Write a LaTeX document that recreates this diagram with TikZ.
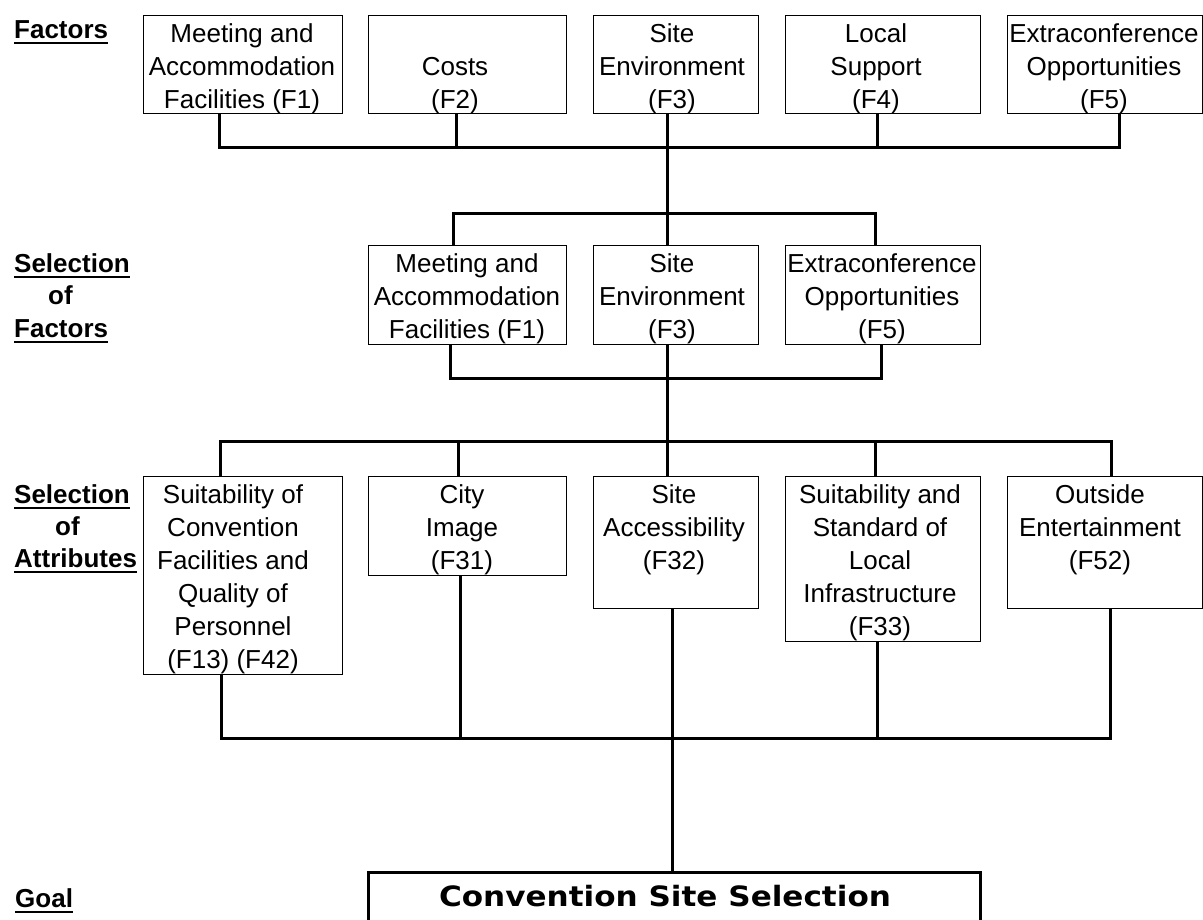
\documentclass[tikz,border=0pt]{standalone}
\usepackage{fontspec}
\setmainfont{Liberation Sans}
\newfontfamily\goalfont{DejaVu Sans}
\begin{document}
\begin{tikzpicture}[x=1pt,y=-1pt,
  box/.style={draw, line width=1.2pt, inner sep=0pt, anchor=north west},
  txt/.style={font=\fontsize{26}{33}\selectfont, align=center, inner sep=0pt, anchor=north},
  head/.style={font=\fontsize{26}{33}\selectfont\bfseries, inner sep=0pt, anchor=base west},
  uline/.style={line width=2pt},
  conn/.style={line width=3pt, line join=miter}
]
\useasboundingbox (0,0) rectangle (1203,919);
\fill[white] (0,0) rectangle (1203,919);

% ---------- headings ----------
\node[head] (h1) at (14,38) {Factors};
\node[head] (h2a) at (14,272) {Selection};
\node[head] (h2b) at (48,304) {of};
\node[head] (h2c) at (14,337) {Factors};
\node[head] (h3a) at (14,503) {Selection};
\node[head] (h3b) at (55,535) {of};
\node[head] (h3c) at (14,567) {Attributes};
\node[head] (h4) at (15,907) {Goal};
\foreach \h in {h1,h2a,h2c,h3a,h3c,h4}
  \draw[uline] ([yshift=-5pt]\h.base west) -- ([yshift=-5pt]\h.base east);

% ---------- factors row ----------
\node[box, minimum width=199pt, minimum height=98pt] (f1a) at (143,15) {};
\node[box, minimum width=198pt, minimum height=98pt] (f2)  at (368,15) {};
\node[box, minimum width=165pt, minimum height=98pt] (f3a) at (593,15) {};
\node[box, minimum width=195pt, minimum height=98pt] (f4)  at (785,15) {};
\node[box, minimum width=195pt, minimum height=98pt] (f5a) at (1007,15) {};
\node[txt] (tf1a) at (242,19) {\strut Meeting and\\Accommodation\\Facilities (F1)};
\node[txt] (tf2)  at (455,19) {\strut\\Costs\\(F2)};
\node[txt] (tf3a) at (672,19) {\strut Site\\Environment\\(F3)};
\node[txt] (tf4)  at (876,19) {\strut Local\\Support\\(F4)};
\node[txt] (tf5a) at (1104,19) {\strut Extraconference\\Opportunities\\(F5)};

% ---------- selection of factors row ----------
\node[box, minimum width=198pt, minimum height=99pt] (f1b) at (368,245) {};
\node[box, minimum width=165pt, minimum height=99pt] (f3b) at (593,245) {};
\node[box, minimum width=195pt, minimum height=99pt] (f5b) at (785,245) {};
\node[txt] (tf1b) at (467,249) {\strut Meeting and\\Accommodation\\Facilities (F1)};
\node[txt] (tf3b) at (672,249) {\strut Site\\Environment\\(F3)};
\node[txt] (tf5b) at (882,249) {\strut Extraconference\\Opportunities\\(F5)};

% ---------- attributes row ----------
\node[box, minimum width=199pt, minimum height=198pt] (a1) at (143,476) {};
\node[box, minimum width=198pt, minimum height=99pt]  (a2) at (368,476) {};
\node[box, minimum width=165pt, minimum height=132pt] (a3) at (593,476) {};
\node[box, minimum width=195pt, minimum height=165pt] (a4) at (785,476) {};
\node[box, minimum width=195pt, minimum height=132pt] (a5) at (1007,476) {};
\node[txt] (ta1) at (233,480) {\strut Suitability of\\Convention\\Facilities and\\Quality of\\Personnel\\(F13) (F42)};
\node[txt] (ta2) at (462,480) {\strut City\\Image\\(F31)};
\node[txt] (ta3) at (674,480) {\strut Site\\Accessibility\\(F32)};
\node[txt] (ta4) at (880,480) {\strut Suitability and\\Standard of\\Local\\Infrastructure\\(F33)};
\node[txt] (ta5) at (1100,480) {\strut Outside\\Entertainment\\(F52)};

% ---------- goal ----------
\node[draw, line width=3pt, inner sep=0pt, anchor=north west,
      minimum width=612pt, minimum height=120pt] (goal) at (367,871) {};
\node[font=\fontsize{28}{34}\selectfont\goalfont\bfseries,
      inner sep=0pt, anchor=base] (goaltxt) at (665,906) {\scalebox{1.11}[1]{Convention Site Selection}};

% ---------- bus coordinates ----------
\coordinate (ta) at (219,147);  \coordinate (tb) at (456,147);
\coordinate (tc) at (667,147);  \coordinate (td) at (877,147);
\coordinate (te) at (1119,147);
\coordinate (ma) at (453,213);  \coordinate (mb) at (667,213);
\coordinate (mc) at (875,213);
\coordinate (na) at (450,378);  \coordinate (nb) at (667,378);
\coordinate (nc) at (881,378);
\coordinate (pa) at (220,441);  \coordinate (pb) at (458,441);
\coordinate (pc) at (667,441);  \coordinate (pd) at (875,441);
\coordinate (pe) at (1111,441);
\coordinate (qa) at (221,738);  \coordinate (qb) at (460,738);
\coordinate (qc) at (672,738);  \coordinate (qd) at (877,738);
\coordinate (qe) at (1110,738);

% ---------- connectors ----------
\draw[conn] (ta |- f1a.south) -- (ta) -- (te) -- (te |- f5a.south);
\draw[conn] (tb |- f2.south) -- (tb);
\draw[conn] (tc |- f3a.south) -- (tc);
\draw[conn] (td |- f4.south) -- (td);
\draw[conn] (tc) -- (mb);

\draw[conn] (ma |- f1b.north) -- (ma) -- (mc) -- (mc |- f5b.north);
\draw[conn] (mb) -- (mb |- f3b.north);

\draw[conn] (na |- f1b.south) -- (na) -- (nc) -- (nc |- f5b.south);
\draw[conn] (nb |- f3b.south) -- (nb);
\draw[conn] (nb) -- (pc);

\draw[conn] (pa |- a1.north) -- (pa) -- (pe) -- (pe |- a5.north);
\draw[conn] (pb) -- (pb |- a2.north);
\draw[conn] (pc) -- (pc |- a3.north);
\draw[conn] (pd) -- (pd |- a4.north);

\draw[conn] (qa |- a1.south) -- (qa) -- (qe) -- (qe |- a5.south);
\draw[conn] (qb |- a2.south) -- (qb);
\draw[conn] (qc |- a3.south) -- (qc);
\draw[conn] (qd |- a4.south) -- (qd);
\draw[conn] (qc) -- (qc |- goal.north);
\end{tikzpicture}
\end{document}
